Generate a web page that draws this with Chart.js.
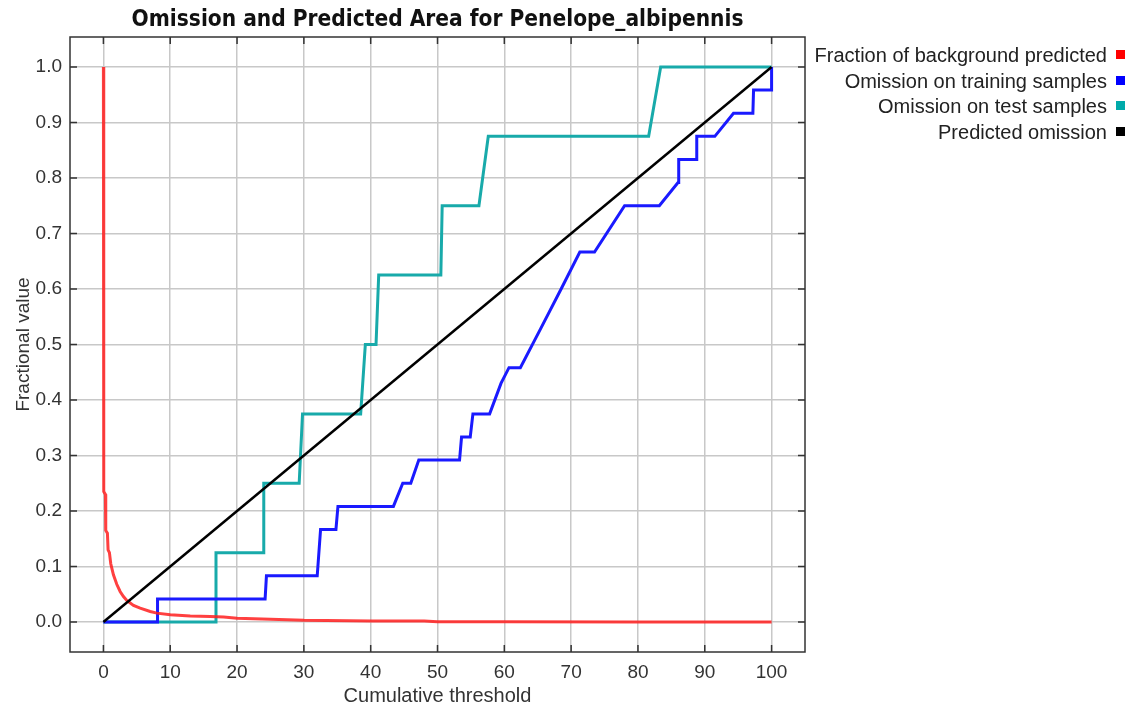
<!DOCTYPE html>
<html>
<head>
<meta charset="utf-8">
<script src="https://cdn.jsdelivr.net/npm/chart.js@4.4.1/dist/chart.umd.min.js"></script>
<style>
  html, body { margin: 0; padding: 0; background: #fff; }
  #wrap { position: relative; width: 1131px; height: 706px; }
  #legend {
    position: absolute; right: 6px; top: 42px;
    font: 20px "Liberation Sans", Arial, sans-serif; color: #222;
    text-align: right;
  }
  #legend div { height: 25.7px; line-height: 26px; white-space: nowrap; }
  #legend span.box { display: inline-block; width: 9px; height: 9px; margin-left: 9px; vertical-align: 3px; }
</style>
</head>
<body>
<div id="wrap">
  <canvas id="chart" width="1131" height="706"></canvas>
  <div id="legend"></div>
</div>
<script>
// Omission and predicted area (Maxent style)
const chartTitle = 'Omission and Predicted Area for Penelope_albipennis';
const xTickValues = [0, 10, 20, 30, 40, 50, 60, 70, 80, 90, 100];
const yTickValues = [0, 0.1, 0.2, 0.3, 0.4, 0.5, 0.6, 0.7, 0.8, 0.9, 1.0];

// Fraction of background predicted
const bgX = [0, 0.05, 0.3, 0.35, 0.6, 0.7, 0.9, 1.1, 1.5, 2.0, 2.5, 3.0, 3.5, 4.5, 5.5, 7, 8, 10, 13, 16, 18, 20, 25, 27.5, 30, 40, 48, 50, 60, 80, 100];
const bgY = [1.0, 0.235, 0.23, 0.165, 0.16, 0.13, 0.125, 0.105, 0.085, 0.068, 0.055, 0.046, 0.039, 0.03, 0.025, 0.019, 0.016, 0.013, 0.011, 0.01, 0.009, 0.007, 0.005, 0.004, 0.003, 0.002, 0.0018, 0.0005, 0.0003, 0.0001, 0];

// Omission on training samples
const trainX = [0, 8.05, 8.1, 24.2, 24.4, 32.0, 32.5, 34.8, 35.1, 43.4, 44.8, 46.0, 47.2, 53.3, 53.6, 54.9, 55.3, 57.8, 59.5, 60.7, 62.4, 65.5, 68.5, 71.3, 73.5, 78, 83.2, 86, 86.1, 88.7, 88.8, 91.5, 94.3, 97.2, 97.3, 100, 100];
const trainY = [0, 0, 0.0417, 0.0417, 0.0833, 0.0833, 0.1667, 0.1667, 0.2083, 0.2083, 0.25, 0.25, 0.2917, 0.2917, 0.3333, 0.3333, 0.375, 0.375, 0.43, 0.4583, 0.4583, 0.53, 0.60, 0.6667, 0.6667, 0.75, 0.75, 0.7917, 0.8333, 0.8333, 0.875, 0.875, 0.9167, 0.9167, 0.9583, 0.9583, 1.0];

// Omission on test samples
const testX = [0, 16.8, 16.85, 23.9, 24.0, 29.3, 29.8, 38.5, 39.2, 40.8, 41.2, 50.5, 50.7, 56.2, 57.6, 81.6, 83.4, 100];
const testY = [0, 0, 0.125, 0.125, 0.25, 0.25, 0.375, 0.375, 0.5, 0.5, 0.625, 0.625, 0.75, 0.75, 0.875, 0.875, 1.0, 1.0];

// Predicted omission
const predX = [0, 100];
const predY = [0, 1];

const series = [
    { label: 'Fraction of background predicted', xs: bgX, ys: bgY, color: 'rgba(255, 30, 30, 0.85)', box: '#ff0000', width: 3, order: 2 },
    { label: 'Omission on training samples', xs: trainX, ys: trainY, color: '#1a1aff', box: '#0000ff', width: 3, order: 3 },
    { label: 'Omission on test samples', xs: testX, ys: testY, color: '#18aaaa', box: '#00aaaa', width: 3, order: 4 },
    { label: 'Predicted omission', xs: predX, ys: predY, color: '#000000', box: '#000000', width: 2.5, order: 1 },
];

const legendEl = document.getElementById('legend');
series.forEach(s => {
    const row = document.createElement('div');
    row.innerHTML = `${s.label}<span class="box" style="background:${s.box}"></span>`;
    legendEl.appendChild(row);
});

const fontFamily = '"Liberation Sans", Arial, sans-serif';

const frame = {
    id: 'frame',
    afterDraw(chart) {
        const { ctx, chartArea: a, scales } = chart;
        ctx.save();
        ctx.strokeStyle = '#333';
        ctx.lineWidth = 1.5;
        ctx.strokeRect(a.left, a.top, a.right - a.left, a.bottom - a.top);
        ctx.beginPath();
        const len = 7;
        scales.x.ticks.forEach((t, i) => {
            const px = scales.x.getPixelForTick(i);
            ctx.moveTo(px, a.bottom); ctx.lineTo(px, a.bottom - len);
            ctx.moveTo(px, a.top); ctx.lineTo(px, a.top + len);
        });
        scales.y.ticks.forEach((t, i) => {
            const py = scales.y.getPixelForTick(i);
            ctx.moveTo(a.left, py); ctx.lineTo(a.left + len, py);
            ctx.moveTo(a.right, py); ctx.lineTo(a.right - len, py);
        });
        ctx.stroke();

        ctx.fillStyle = '#111';
        ctx.font = 'bold 22.5px "DejaVu Sans Condensed", "DejaVu Sans", sans-serif';
        ctx.textAlign = 'center';
        ctx.textBaseline = 'middle';
        ctx.fillText(chartTitle, (a.left + a.right) / 2, 20);
        ctx.restore();
    },
};

new Chart(document.getElementById('chart').getContext('2d'), {
    type: 'scatter',
    data: {
        datasets: series.map(s => ({
            label: s.label,
            data: s.xs.map((x, i) => ({ x, y: s.ys[i] })),
            showLine: true,
            borderColor: s.color,
            backgroundColor: s.color,
            borderWidth: s.width,
            pointRadius: 0,
            tension: 0,
            order: s.order,
        })),
    },
    options: {
        responsive: false,
        animation: false,
        layout: { padding: { top: 37, right: 326, left: 0, bottom: 0 } },
        plugins: {
            legend: { display: false },
            title: { display: false },
            tooltip: { enabled: false },
        },
        scales: {
            x: {
                type: 'linear',
                min: -5,
                max: 105,
                afterBuildTicks: scale => { scale.ticks = xTickValues.map(v => ({ value: v })); },
                afterFit: scale => { scale.height = 54; },
                ticks: { color: '#333', font: { family: fontFamily, size: 19 }, padding: 9, maxRotation: 0, callback: v => String(v) },
                grid: { color: '#c8c8c8', lineWidth: 1.5, drawTicks: false },
                border: { display: false },
                title: { display: true, text: 'Cumulative threshold', color: '#333', font: { family: fontFamily, size: 20, lineHeight: 1 }, padding: { top: 0, bottom: 0 } },
            },
            y: {
                type: 'linear',
                min: -0.054,
                max: 1.054,
                afterBuildTicks: scale => { scale.ticks = yTickValues.map(v => ({ value: v })); },
                afterFit: scale => { scale.width = 70; },
                ticks: { color: '#333', font: { family: fontFamily, size: 19 }, padding: 8, callback: v => Number(v).toFixed(1) },
                grid: { color: '#c8c8c8', lineWidth: 1.5, drawTicks: false },
                border: { display: false },
                title: { display: true, text: 'Fractional value', color: '#333', font: { family: fontFamily, size: 19, lineHeight: 1 }, padding: { top: 14, bottom: 0 } },
            },
        },
    },
    plugins: [frame],
});
</script>
</body>
</html>
